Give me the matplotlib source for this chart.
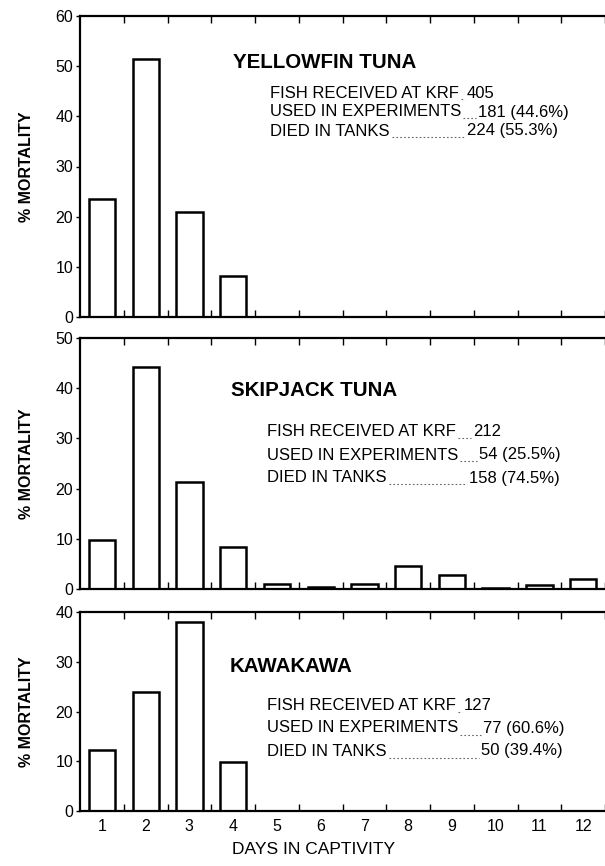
import numpy as np
import matplotlib
matplotlib.use('Agg')

import matplotlib.pyplot as plt

# days in captivity
days = [1, 2, 3, 4, 5, 6, 7, 8, 9, 10, 11, 12]

# % mortality
yellowfin = [23.6, 51.4, 20.9, 8.1, 0, 0, 0, 0, 0, 0, 0, 0]
skipjack = [9.7, 44.2, 21.4, 8.3, 1.0, 0.4, 0.9, 4.6, 2.7, 0.2, 0.7, 1.9]
kawakawa = [12.2, 23.9, 38.0, 9.8, 0, 0, 0, 0, 0, 0, 0, 0]

species = ['YELLOWFIN TUNA', 'SKIPJACK TUNA', 'KAWAKAWA']
ymax = [60, 50, 40]
received = ['405', '212', '127']
used = ['181 (44.6%)', '54 (25.5%)', '77 (60.6%)']
died = ['224 (55.3%)', '158 (74.5%)', '50 (39.4%)']
labels = ['FISH RECEIVED AT KRF', 'USED IN EXPERIMENTS', 'DIED IN TANKS']

W, H = 605, 866
plt.rcParams['font.family'] = ['Liberation Sans', 'DejaVu Sans']
fig = plt.figure(figsize=(W / 100, H / 100), dpi=100)

# panel boxes in pixels: (top, bottom)
boxes = [(16, 317), (338, 589), (612, 811)]
left_px = 80
day_px = 44.3
x_right = 0.5 + (W - left_px) / day_px

# text layout in pixels for each panel
title_pos = [(233, 62), (231, 391), (230, 667)]
line_y = [(93, 112, 131), (432, 455, 478), (705, 728, 751)]
line_x = [270, 267, 267]
val_x = [(437, 478, 467), (473, 479, 469), (459, 483, 481)]

data = [yellowfin, skipjack, kawakawa]
pending = []

for i in range(3):
    top, bot = boxes[i]
    ax = fig.add_axes([left_px / W, 1 - bot / H, 1 - left_px / W, (bot - top) / H])
    ax.bar(days, data[i], width=0.6, color='white', edgecolor='black', linewidth=1.8)
    ax.set_xlim(0.5, x_right)
    ax.set_ylim(0, ymax[i])

    for s in ['left', 'bottom', 'top']:
        ax.spines[s].set_linewidth(1.6)
    ax.spines['right'].set_visible(False)

    ax.set_xticks(days)
    ax.set_xticks(np.arange(1.5, 13, 1.0), minor=True)
    ax.tick_params(axis='x', which='major', length=0, pad=6, labelsize=11.5)
    ax.tick_params(axis='x', which='minor', direction='in', length=5, width=1,
                   top=True, bottom=True)
    if i < 2:
        ax.set_xticklabels([])
    ax.set_yticks(np.arange(0, ymax[i] + 1, 10))
    ax.tick_params(axis='y', direction='out', length=3, width=1, labelsize=11.5, pad=2)
    ax.set_ylabel('% MORTALITY', fontsize=11.5, fontweight='bold', labelpad=15)

    def px(x, y):
        return ((x - left_px) / (W - left_px), (bot - y) / (bot - top))

    tx, ty = px(*title_pos[i])
    ax.text(tx, ty, species[i], transform=ax.transAxes, fontsize=14.8,
            fontweight='bold', va='center', ha='left')
    values = [received[i], used[i], died[i]]
    for j in range(3):
        lx, ly = px(line_x[i], line_y[i][j])
        t = ax.text(lx, ly, labels[j], transform=ax.transAxes,
                    fontsize=12, va='center', ha='left')
        vx, vy = px(val_x[i][j], line_y[i][j])
        v = ax.text(vx, vy, values[j], transform=ax.transAxes, fontsize=12,
                    va='center', ha='left')
        pending.append((ax, t, v, vx, vy))

fig.text(314 / W, 1 - 850 / H, 'DAYS IN CAPTIVITY', fontsize=12.5, ha='center', va='center')

# push numbers clear of long labels, then add dotted leaders
fig.canvas.draw()
r = fig.canvas.get_renderer()
step = 1 / (W - left_px)
for ax, t, v, vx, vy in pending:
    bb = t.get_window_extent(r).transformed(ax.transAxes.inverted())
    if vx < bb.x1 + 8 * step:
        vx = bb.x1 + 8 * step
        v.set_x(vx)
    x0 = bb.x1 + 2 * step
    x1 = vx - 2 * step
    ax.plot([x0, x1], [bb.y0 + 0.004, bb.y0 + 0.004], transform=ax.transAxes,
            color='0.4', linestyle=(0, (1.5, 2)), linewidth=0.8)

fig.savefig('out.png', dpi=100)
